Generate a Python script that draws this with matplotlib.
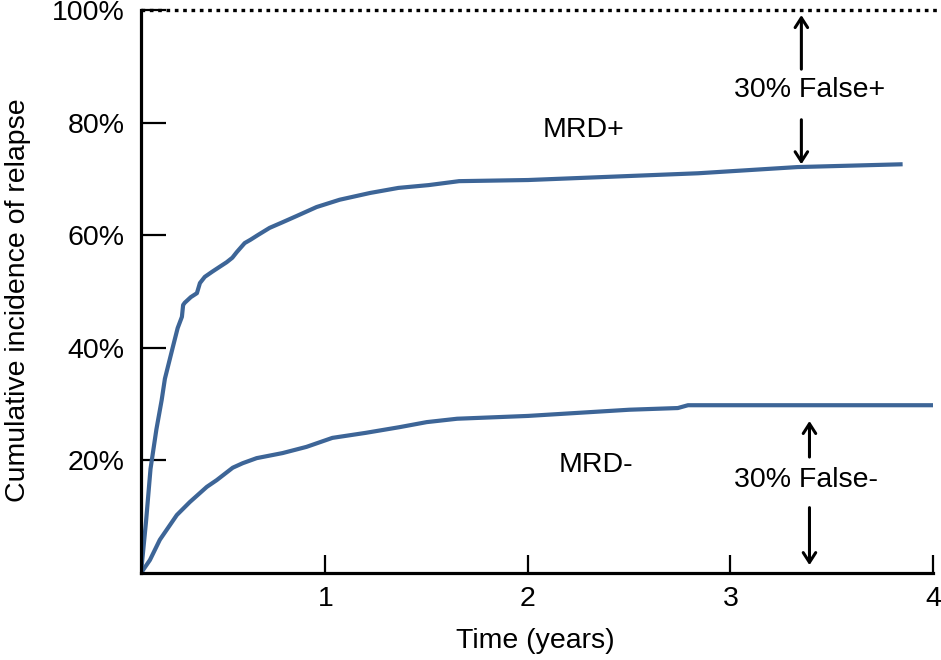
import matplotlib
matplotlib.use("Agg")
import matplotlib.pyplot as plt

plt.rcParams['font.family'] = ['Liberation Sans', 'DejaVu Sans']

# MRD+ cumulative incidence (years, %)
mrd_pos_t = [0.089, 0.114, 0.136, 0.165, 0.191, 0.207, 0.246, 0.270, 0.291, 0.297, 0.305,
             0.335, 0.365, 0.380, 0.404, 0.440, 0.478, 0.512, 0.540, 0.562, 0.601,
             0.630, 0.665, 0.724, 0.788, 0.857, 0.956, 1.07, 1.22, 1.36, 1.51,
             1.66, 2.0, 2.35, 2.84, 3.33, 3.85]
mrd_pos_v = [0, 9.2, 18.5, 25.5, 30.7, 34.5, 40.1, 43.5, 45.5, 47.6, 48.0,
             49.0, 49.7, 51.5, 52.6, 53.5, 54.4, 55.2, 56.0, 57.0, 58.6,
             59.2, 60.0, 61.3, 62.3, 63.4, 65.0, 66.3, 67.5, 68.4, 68.9,
             69.6, 69.8, 70.3, 71.0, 72.1, 72.6]

# MRD- cumulative incidence (years, %)
mrd_neg_t = [0.089, 0.133, 0.182, 0.266, 0.33, 0.414, 0.463, 0.542, 0.591, 0.66, 0.788,
             0.906, 1.034, 1.2, 1.365, 1.5, 1.65, 2.0, 2.5, 2.74, 2.79, 4.0]
mrd_neg_v = [0, 2.3, 5.9, 10.3, 12.6, 15.3, 16.5, 18.7, 19.5, 20.4, 21.3,
             22.4, 24.0, 24.9, 25.9, 26.8, 27.4, 27.9, 29.0, 29.3, 29.8, 29.8]

x_ticks = [1, 2, 3, 4]
x_tick_labels = ['1', '2', '3', '4']
y_ticks = [20, 40, 60, 80, 100]
y_tick_labels = ['20%', '40%', '60%', '80%', '100%']

curve_color = '#3d6597'
fs = 20.5

fig = plt.figure(figsize=(9.41, 6.6), dpi=100)
ax = fig.add_axes([141/941, 87/660, 792/941, 563/660])

ax.plot(mrd_pos_t, mrd_pos_v, color=curve_color, lw=3, solid_capstyle='butt')
ax.plot(mrd_neg_t, mrd_neg_v, color=curve_color, lw=3, solid_capstyle='butt')

ax.set_xlim(0.089, 4.0)
ax.set_ylim(0, 100)

for s in ['top', 'right']:
    ax.spines[s].set_visible(False)
for s in ['left', 'bottom']:
    ax.spines[s].set_linewidth(2.3)
    ax.spines[s].set_color('black')

ax.set_xticks(x_ticks)
ax.set_xticklabels(x_tick_labels, fontsize=fs)
ax.set_yticks(y_ticks)
ax.set_yticklabels(y_tick_labels, fontsize=fs)
ax.tick_params(axis='y', direction='in', length=18, width=1.6, pad=12)
ax.tick_params(axis='x', direction='in', length=13, width=1.6, pad=9)

# 100% dotted reference line
ax.plot([0, 1.012], [1, 1], transform=ax.transAxes, color='black', lw=2.4,
        linestyle=(0, (1.1, 1.4)), clip_on=False)

fig.text(535/941, 1 - 641/660, 'Time (years)', fontsize=fs, ha='center', va='center')
fig.text(18/941, 1 - 300/660, 'Cumulative incidence of relapse', fontsize=fs,
         ha='center', va='center', rotation=90)

ax.text(2.276, 78.7, 'MRD+', fontsize=fs, ha='center', va='center')
ax.text(2.335, 19.2, 'MRD-', fontsize=fs, ha='center', va='center')

arrow_kw = dict(arrowstyle='->,head_length=0.7,head_width=0.45', color='black', lw=2.2)
# upper annotation
ax.annotate('', xy=(3.35, 99.6), xytext=(3.35, 89.0), arrowprops=arrow_kw)
ax.annotate('', xy=(3.35, 72.1), xytext=(3.35, 81.0), arrowprops=arrow_kw)
ax.text(3.39, 85.8, '30% False+', fontsize=fs, ha='center', va='center')
# lower annotation
ax.annotate('', xy=(3.39, 27.5), xytext=(3.39, 20.1), arrowprops=arrow_kw)
ax.annotate('', xy=(3.39, 0.9), xytext=(3.39, 12.1), arrowprops=arrow_kw)
ax.text(3.375, 16.5, '30% False-', fontsize=fs, ha='center', va='center')

fig.savefig('out.png', dpi=100)
